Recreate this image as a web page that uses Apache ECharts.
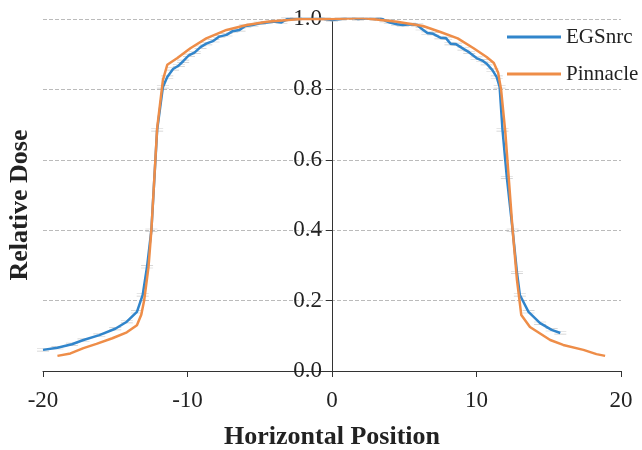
<!DOCTYPE html>
<html>
<head>
<meta charset="utf-8">
<script src="https://cdn.jsdelivr.net/npm/echarts@6/dist/echarts.min.js"></script>
<style>html,body{margin:0;padding:0;background:#fff}#c{width:642px;height:450px}</style>
</head>
<body>
<div id="c"></div>
<script>
var seriesNames = ['EGSnrc', 'Pinnacle'];
var xTicks = [-20, -10, 0, 10, 20];
var yTicks = [0.0, 0.2, 0.4, 0.6, 0.8, 1.0];
var egsnrc = [[-20,0.060],[-19,0.066],[-18,0.076],[-17.2,0.088],[-16.1,0.102],[-15,0.120],[-14.2,0.140],[-13.5,0.168],[-13.1,0.216],[-12.8,0.296],[-12.5,0.40],[-12.1,0.685],[-11.7,0.807],[-11.4,0.835],[-11.0,0.858],[-10.6,0.868],[-10.3,0.880],[-9.9,0.897],[-9.5,0.905],[-9.1,0.920],[-8.7,0.930],[-8.2,0.938],[-7.8,0.950],[-7.3,0.955],[-6.9,0.965],[-6.4,0.969],[-6.0,0.980],[-5.5,0.983],[-5.0,0.988],[-4.5,0.990],[-4.0,0.993],[-3.5,0.990],[-3.1,1.0],[-2.5,1.0],[-2.0,1.003],[-1.5,1.005],[-1.0,1.005],[-0.5,1.0],[0,0.997],[0.6,1.0],[1.2,1.005],[1.8,1.0],[2.4,1.002],[3.0,1.0],[3.3,1.005],[3.7,0.995],[4.0,0.99],[4.5,0.985],[4.9,0.983],[5.4,0.985],[5.9,0.983],[6.2,0.972],[6.6,0.96],[7.0,0.958],[7.5,0.947],[7.9,0.945],[8.2,0.930],[8.6,0.928],[9.1,0.915],[9.5,0.905],[10.0,0.889],[10.4,0.882],[10.7,0.873],[11.1,0.855],[11.4,0.835],[11.6,0.807],[11.8,0.685],[12.1,0.55],[12.5,0.40],[12.8,0.28],[13.0,0.216],[13.6,0.168],[14.4,0.136],[15.2,0.117],[15.8,0.108]];
var pinnacle = [[-19,0.043],[-18.1,0.05],[-17.2,0.065],[-16.3,0.077],[-15.2,0.093],[-14.2,0.11],[-13.5,0.13],[-13.2,0.16],[-13.0,0.2],[-12.7,0.295],[-12.5,0.40],[-12.1,0.69],[-11.7,0.827],[-11.4,0.87],[-10.7,0.889],[-9.8,0.917],[-8.7,0.945],[-7.3,0.969],[-5.9,0.983],[-4.5,0.992],[-2.2,1.0],[0,1.0],[2.1,1.003],[4.5,0.992],[6.3,0.98],[7.5,0.963],[8.7,0.945],[9.8,0.917],[10.7,0.892],[11.2,0.875],[11.5,0.847],[11.7,0.80],[12.0,0.676],[12.5,0.40],[12.8,0.259],[13.1,0.159],[13.7,0.125],[15.1,0.088],[16.0,0.074],[17.4,0.06],[18.3,0.048],[18.9,0.043]];

var FONT = '"Liberation Serif", "Times New Roman", serif';
var GRID_LEFT = 43, GRID_RIGHT = 21, W = 642;
var chart = echarts.init(document.getElementById('c'), null, {renderer: 'canvas'});
// y-axis sits at x = 0 of the x scale: shift it from the grid's left edge
var plotW = W - GRID_LEFT - GRID_RIGHT;
var yOffset = -plotW * (0 - xTicks[0]) / (xTicks[xTicks.length - 1] - xTicks[0]);
chart.setOption({
  animation: false,
  backgroundColor: '#fff',
  textStyle: {fontFamily: FONT},
  grid: {left: GRID_LEFT, right: GRID_RIGHT, top: 19, bottom: 79, containLabel: false, outerBoundsMode: 'none'},
  legend: {
    orient: 'vertical', left: 502, top: 21,
    icon: 'rect', itemWidth: 54, itemHeight: 3, itemGap: 15,
    data: seriesNames,
    textStyle: {fontFamily: FONT, fontSize: 21, color: '#222', lineHeight: 22}
  },
  graphic: [{
    type: 'text', x: 20, y: 205, rotation: Math.PI / 2,
    style: {text: 'Relative Dose', font: 'bold 26px ' + FONT, fill: '#222', textAlign: 'center', textVerticalAlign: 'middle'}
  }],
  xAxis: {
    type: 'value', min: xTicks[0], max: xTicks[xTicks.length - 1], interval: 10,
    name: 'Horizontal Position', nameLocation: 'middle', nameGap: 53,
    nameTextStyle: {fontFamily: FONT, fontSize: 26, fontWeight: 'bold', color: '#222'},
    axisLine: {show: true, onZero: false, lineStyle: {color: '#333', width: 1}},
    axisTick: {show: true, length: 6, lineStyle: {color: '#333'}},
    axisLabel: {fontFamily: FONT, fontSize: 23, color: '#222', margin: 18},
    splitLine: {show: false}
  },
  yAxis: {
    type: 'value', position: 'left', offset: yOffset,
    min: yTicks[0], max: yTicks[yTicks.length - 1], interval: 0.2,
    axisLine: {show: true, onZero: false, lineStyle: {color: '#333', width: 1}},
    axisTick: {show: true, length: 6, lineStyle: {color: '#333'}},
    axisLabel: {fontFamily: FONT, fontSize: 23, color: '#222', margin: 10,
      formatter: function (v) { return v.toFixed(1); }},
    splitLine: {show: true, lineStyle: {color: '#bbb', type: [4, 2], width: 1}}
  },
  series: [
    {
      name: 'errbars', type: 'scatter', data: egsnrc, silent: true, z: 1,
      symbol: 'path://M0,0h12v0.7h-12z M0,2.6h12v0.7h-12z', symbolSize: [12, 3],
      itemStyle: {color: '#bdbdbd'}
    },
    {
      name: seriesNames[0], type: 'line', data: egsnrc, symbol: 'none', z: 3,
      lineStyle: {color: '#3185cb', width: 2.5}, itemStyle: {color: '#3185cb'}
    },
    {
      name: seriesNames[1], type: 'line', data: pinnacle, symbol: 'none', z: 4,
      lineStyle: {color: '#ee8d48', width: 2.5}, itemStyle: {color: '#ee8d48'}
    }
  ]
});
</script>
</body>
</html>
